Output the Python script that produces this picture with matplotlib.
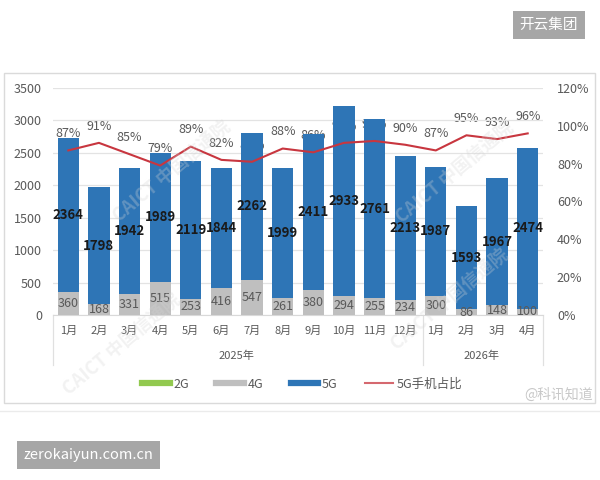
import matplotlib
matplotlib.use("Agg")
import matplotlib.pyplot as plt
from matplotlib.lines import Line2D
from matplotlib.patches import Rectangle
import matplotlib.transforms as mtransforms

plt.rcParams['font.family'] = ['Noto Sans CJK SC', 'DejaVu Sans']

months = ['1月', '2月', '3月', '4月', '5月', '6月', '7月', '8月', '9月', '10月', '11月', '12月',
          '1月', '2月', '3月', '4月']
years = ['2025年', '2026年']
g2 = [0, 0, 0, 0, 0, 0, 0, 0, 0, 0, 0, 0, 0, 0, 0, 0]
g4 = [360, 168, 331, 515, 253, 416, 547, 261, 380, 294, 255, 234, 300, 86, 148, 100]
g5 = [2364, 1798, 1942, 1989, 2119, 1844, 2262, 1999, 2411, 2933, 2761, 2213, 1987, 1593, 1967, 2474]
share = [87, 91, 85, 79, 89, 82, 81, 88, 86, 91, 92, 90, 87, 95, 93, 96]

c2 = '#92C94F'
c4 = '#BFBFBF'
c5 = '#2E75B6'
cl = '#C8363F'
txt = '#595959'

W, H = 600, 480
fx = lambda px: px / W
fy = lambda py: 1 - py / H

fig = plt.figure(figsize=(6, 4.8), dpi=100)
ax = fig.add_axes([fx(53), fy(315), fx(543) - fx(53), fy(88) - fy(315)])
ax2 = ax.twinx()

x = list(range(len(months)))
b4 = [a + b for a, b in zip(g2, g4)]
ax.bar(x, g2, width=0.69, color=c2, zorder=3)
ax.bar(x, g4, width=0.69, bottom=g2, color=c4, zorder=3)
ax.bar(x, g5, width=0.69, bottom=b4, color=c5, zorder=3)

for i in x:
    ax.text(i, g2[i] + g4[i] / 2, str(g4[i]), ha='center', va='center',
            fontsize=9, color=txt, zorder=5)
    ax.text(i, b4[i] + g5[i] / 2, str(g5[i]), ha='center', va='center',
            fontsize=9.5, color='#1a1a1a', fontweight='bold', zorder=5)

ax.set_ylim(0, 3500)
ax.set_yticks(range(0, 3501, 500))
ax.set_xlim(-0.5, len(months) - 0.5)
ax.set_xticks(x)
ax.set_xticklabels(months)
ax.tick_params(axis='x', length=0, pad=8, labelsize=8, colors=txt)
ax.tick_params(axis='y', length=0, pad=8, labelsize=9, colors=txt)
ax.grid(axis='y', color='#E3E3E3', lw=0.9, zorder=0)
ax.set_axisbelow(True)
for s in ['top', 'right', 'left']:
    ax.spines[s].set_visible(False)
ax.spines['bottom'].set_color('#D9D9D9')

# share line on the right axis, labels sit behind the bars
ax.set_zorder(2)
ax.patch.set_visible(False)
ax2.set_zorder(1)
ax2.set_ylim(0, 120)
ax2.set_yticks(range(0, 121, 20))
ax2.set_yticklabels([f'{v}%' for v in range(0, 121, 20)])
ax2.tick_params(axis='y', length=0, pad=10, labelsize=9, colors=txt)
for s in ax2.spines.values():
    s.set_visible(False)
for i in x:
    ax2.annotate(f'{share[i]}%', (i, share[i]), xytext=(0, 12), textcoords='offset points',
                 ha='center', va='center', fontsize=9, color=txt)
# line drawn on top of bars
ax.plot(x, [v / 120 * 3500 for v in share], color=cl, lw=1.5, zorder=4)

# year row of the category axis
tr = mtransforms.blended_transform_factory(ax.transData, fig.transFigure)
ax.text(5.5, fy(356), years[0], transform=tr, ha='center', va='center', fontsize=8, color=txt)
ax.text(13.5, fy(356), years[1], transform=tr, ha='center', va='center', fontsize=8, color=txt)
for px, y2 in [(53, 365), (423, 365), (543, 365)]:
    fig.add_artist(Line2D([fx(px), fx(px)], [fy(315), fy(y2)], color='#E0E0E0', lw=0.9))

# legend
handles = [Line2D([], [], color=c2, lw=4.5), Line2D([], [], color=c4, lw=4.5),
           Line2D([], [], color=c5, lw=4.5), Line2D([], [], color=cl, lw=1.5, alpha=0.75)]
fig.legend(handles, ['2G', '4G', '5G', '5G手机占比'], loc='center', ncol=4,
           bbox_to_anchor=(fx(302), fy(384)), frameon=False, fontsize=9,
           handlelength=2.2, handletextpad=0.3, columnspacing=2.2, labelcolor=txt)

# chart frame
fig.add_artist(Rectangle((fx(4), fy(403)), fx(595) - fx(4), fy(73) - fy(403),
                         fill=False, edgecolor='#DADADA', lw=1))
fig.add_artist(Line2D([0, 1], [fy(411), fy(411)], color='#EBEBEB', lw=1))

# watermarks
for cx, cy in [(122, 345), (172, 172), (450, 300), (455, 173)]:
    fig.text(fx(cx), fy(cy), 'CAICT 中国信通院', rotation=40, ha='center', va='center',
             fontsize=13, fontweight='bold', color='#D5D5D5', alpha=0.3, zorder=10)
fig.text(fx(593), fy(395), '@科讯知道', ha='right', va='center', fontsize=10,
         color='#C8C8C8', zorder=10)

fig.text(fx(549), fy(25), '开云集团', ha='center', va='center', fontsize=10.5, color='white',
         bbox=dict(boxstyle='square,pad=0.45', fc='#A6A6A6', ec='none'))
fig.text(fx(88), fy(455), 'zerokaiyun.com.cn', ha='center', va='center', fontsize=10.5,
         color='white', bbox=dict(boxstyle='square,pad=0.45', fc='#A6A6A6', ec='none'))

fig.savefig('out.png', dpi=100)
